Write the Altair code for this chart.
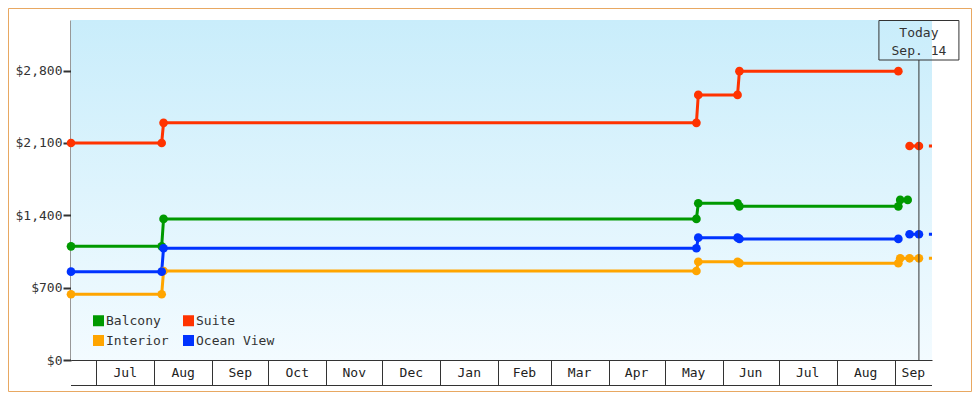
import altair as alt
import pandas as pd

FONT = "DejaVu Sans Mono"
TXT = "#333333"

# ---------------- data ----------------
rooms = ["Balcony", "Suite", "Interior", "Ocean View"]
room_colors = ["#009900", "#ff3300", "#ffa500", "#0033ff"]

main_dates = ["2018-06-17T12:00:00Z", "2018-08-05", "2018-08-06", "2019-05-18",
              "2019-05-19", "2019-06-09", "2019-06-10", "2019-09-03"]
balcony_main = [1100, 1100, 1365, 1365, 1517, 1517, 1487, 1487]
suite_main = [2100, 2100, 2295, 2295, 2565, 2565, 2795, 2795]
interior_main = [636, 636, 861, 861, 951, 951, 937, 937]
ocean_main = [855, 855, 1081, 1081, 1184, 1184, 1172, 1172]

# continuation right after the main run (same line)
balcony_cont_dates = ["2019-09-04", "2019-09-08"]
balcony_cont = [1549, 1549]
interior_cont_dates = ["2019-09-04", "2019-09-09", "2019-09-14"]
interior_cont = [984, 984, 984]

# separate short runs
suite_late_dates = ["2019-09-09", "2019-09-14"]
suite_late = [2071, 2071]
ocean_late_dates = ["2019-09-09", "2019-09-14"]
ocean_late = [1217, 1217]

# future (dashed) from today
future_rooms = ["Suite", "Interior", "Ocean View"]
future_values = [2071, 984, 1217]
future_start = "2019-09-14"
future_end = "2019-09-28"

today_date = ["2019-09-14"]
today_lines = ["Today", "Sep. 14"]

month_names = ["Jul", "Aug", "Sep", "Oct", "Nov", "Dec", "Jan", "Feb",
               "Mar", "Apr", "May", "Jun", "Jul", "Aug", "Sep"]
month_starts = ["2018-07-01", "2018-08-01", "2018-09-01", "2018-10-01", "2018-11-01",
                "2018-12-01", "2019-01-01", "2019-02-01", "2019-03-01", "2019-04-01",
                "2019-05-01", "2019-06-01", "2019-07-01", "2019-08-01", "2019-09-01"]
domain_start = "2018-06-17T12:00:00"
domain_end = "2019-09-21T00:00:00"

y_ticks = [0, 700, 1400, 2100, 2800]
y_max = 3290

# ---------------- tables ----------------
rows = []


def add(room, seg, dates, vals):
    for d, v in zip(dates, vals):
        rows.append({"room": room, "seg": seg, "date": d, "price": v})


add("Balcony", "b1", main_dates + balcony_cont_dates, balcony_main + balcony_cont)
add("Suite", "s1", main_dates, suite_main)
add("Suite", "s2", suite_late_dates, suite_late)
add("Interior", "i1", main_dates + interior_cont_dates, interior_main + interior_cont)
add("Ocean View", "o1", main_dates, ocean_main)
add("Ocean View", "o2", ocean_late_dates, ocean_late)
df = pd.DataFrame(rows)

frows = []
for r, v in zip(future_rooms, future_values):
    frows.append({"room": r, "date": future_start, "price": v})
    frows.append({"room": r, "date": future_end, "price": v})
fdf = pd.DataFrame(frows)

# month label positions: centre of visible part of each month cell
ds = pd.Timestamp(domain_start)
de = pd.Timestamp(domain_end)
mrows = []
for name, s in zip(month_names, month_starts):
    a = pd.Timestamp(s)
    b = a + pd.offsets.MonthBegin(1)
    a2, b2 = max(a, ds), min(b, de)
    mid = a2 + (b2 - a2) / 2
    mrows.append({"date": mid.strftime("%Y-%m-%dT%H:%M:%SZ"), "label": name})
mdf = pd.DataFrame(mrows)


def dt(s):
    t = pd.Timestamp(s)
    return alt.DateTime(year=t.year, month=t.month, date=t.day, hours=t.hour, utc=True)


xscale = alt.Scale(type="utc", domain=[dt(domain_start), dt(domain_end)], nice=False)
yscale = alt.Scale(domain=[0, y_max], nice=False, zero=True)
cscale = alt.Scale(domain=rooms, range=room_colors)

W, H = 861, 340

one = pd.DataFrame({"k": [0]})

bg = alt.Chart(one).mark_rect(
    fill=alt.LinearGradient(
        gradient="linear", x1=0, y1=0, x2=0, y2=1,
        stops=[alt.GradientStop(color="#c9edfb", offset=0),
               alt.GradientStop(color="#f3fbff", offset=1)]
    )
).encode(x=alt.value(0), x2=alt.value(W), y=alt.value(0), y2=alt.value(H))

x_axis = alt.Axis(
    values=[dt(s) for s in month_starts], labels=False, title=None,
    tickSize=25, tickColor=TXT, tickWidth=1, domainColor=TXT, domainWidth=1, grid=False
)
y_axis = alt.Axis(
    values=y_ticks, format="$,.0f", title=None, grid=False,
    domainColor=TXT, domainWidth=2, tickColor=TXT, tickWidth=2, tickSize=8,
    labelFont=FONT, labelFontSize=13, labelColor=TXT, labelPadding=1
)

legend = alt.Legend(
    title=None, orient="none", legendX=21, legendY=294, direction="horizontal",
    columns=2, symbolType="square", symbolSize=121, symbolStrokeWidth=0,
    symbolOpacity=1, labelFont=FONT, labelFontSize=13, labelColor=TXT,
    labelOffset=1, columnPadding=13, rowPadding=6, padding=0,
)
color = alt.Color("room:N", scale=cscale, legend=legend)

lines = alt.Chart(df).mark_line(strokeWidth=3).encode(
    x=alt.X("date:T", scale=xscale, axis=x_axis),
    y=alt.Y("price:Q", scale=yscale, axis=y_axis),
    color=color,
    detail="seg:N",
)

points = alt.Chart(df).mark_point(filled=True, shape="circle", size=75, opacity=1).encode(
    x=alt.X("date:T"),
    y=alt.Y("price:Q"),
    color=color,
)

future = alt.Chart(fdf).mark_line(strokeWidth=3, strokeDash=[4, 6], clip=True).encode(
    x=alt.X("date:T"),
    y=alt.Y("price:Q"),
    color=color,
    detail="room:N",
)

tdf = pd.DataFrame({"date": today_date})
today_rule = alt.Chart(tdf).mark_rule(color=TXT, strokeWidth=1).encode(
    x=alt.X("date:T"), y=alt.value(40), y2=alt.value(H)
)
today_box = alt.Chart(tdf).mark_rect(
    fillOpacity=0, stroke=TXT, strokeWidth=1, xOffset=-40, x2Offset=40
).encode(x=alt.X("date:T"), x2=alt.X2("date"), y=alt.value(0.5), y2=alt.value(40))

ldf = pd.DataFrame({"date": today_date * 2, "line": today_lines, "ypos": [12.5, 30.5]})
today_text = alt.Chart(ldf).mark_text(
    font=FONT, fontSize=13, color=TXT, baseline="middle", align="center"
).encode(x=alt.X("date:T"), y=alt.Y("ypos:Q", scale=None), text="line:N")

month_text = alt.Chart(mdf).mark_text(
    font=FONT, fontSize=13, color="#222222", baseline="middle", align="center"
).encode(x=alt.X("date:T"), y=alt.value(353), text="label:N")

bottom_rule = alt.Chart(one).mark_rule(color=TXT, strokeWidth=1).encode(
    x=alt.value(0), x2=alt.value(W), y=alt.value(365.5)
)

border = alt.Chart(one).mark_rect(
    fillOpacity=0, stroke="#e8a862", strokeWidth=1
).encode(x=alt.value(-62.5), x2=alt.value(900.5), y=alt.value(-11.5), y2=alt.value(371.5))

chart = alt.layer(
    bg, lines, future, points, today_rule, today_box, today_text,
    month_text, bottom_rule, border
).properties(
    width=W, height=H,
    autosize=alt.AutoSizeParams(type="none"),
    padding={"left": 63, "top": 12, "right": 40, "bottom": 32},
    background="white",
).configure_view(stroke=None)

chart.save("out.html", embed_options={"renderer": "svg", "actions": False})
